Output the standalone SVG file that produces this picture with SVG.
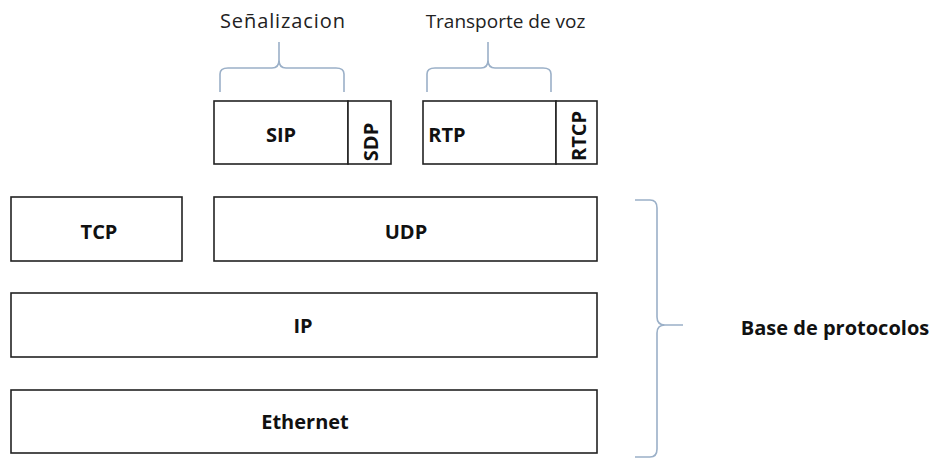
<svg xmlns="http://www.w3.org/2000/svg" width="936" height="459" viewBox="0 0 936 459">
<style>
.box{fill:#fff;stroke:#222;stroke-width:1.6}
.lbl{font-family:"Open Sans",Lato,sans-serif;font-weight:bold;font-size:20px;fill:#111;text-anchor:middle}
.hdr{font-family:"Open Sans",Lato,sans-serif;font-size:19px;fill:#222;text-anchor:middle}
.br{fill:none;stroke:#9bb0c8;stroke-width:1.6}
</style>
<rect width="936" height="459" fill="#fff"/>
<g id="connectors">
<path class="br" d="M220,92 L220,74 Q220,68 228,68 L272,68 Q279,68 279,60 L279,42 L279,60 Q279,68 286,68 L336,68 Q344,68 344,74 L344,92"/>
<path class="br" d="M427,92 L427,74 Q427,68 435,68 L481,68 Q488,68 488,60 L488,42 L488,60 Q488,68 495,68 L543,68 Q551,68 551,74 L551,92"/>
<path class="br" d="M635,200 L650,200 Q657,200 657,208 L657,317 Q657,325 665,325 L683,325 L665,325 Q657,325 657,333 L657,449 Q657,457 650,457 L635,457"/>
</g>
<g id="senalizacion"><text class="hdr" x="282.5" y="28" style="font-size:20px" textLength="125" lengthAdjust="spacing">Señalizacion</text></g>
<g id="transporte"><text class="hdr" x="505.5" y="28">Transporte de voz</text></g>
<g id="sip"><rect class="box" x="214" y="101" width="134" height="63"/><text class="lbl" x="281" y="142">SIP</text></g>
<g id="sdp"><rect class="box" x="348" y="101" width="43" height="63"/><text class="lbl" transform="translate(378,142) rotate(-90)" x="0" y="0">SDP</text></g>
<g id="rtp"><rect class="box" x="423" y="101" width="133" height="63"/><text class="lbl" x="447" y="142">RTP</text></g>
<g id="rtcp"><rect class="box" x="556" y="101" width="41" height="63"/><text class="lbl" transform="translate(586,136) rotate(-90)" x="0" y="0">RTCP</text></g>
<g id="tcp"><rect class="box" x="11" y="197" width="171" height="64"/><text class="lbl" x="99" y="239">TCP</text></g>
<g id="udp"><rect class="box" x="214" y="197" width="383" height="64"/><text class="lbl" x="406" y="239">UDP</text></g>
<g id="ip"><rect class="box" x="11" y="293" width="586" height="64"/><text class="lbl" x="303" y="333">IP</text></g>
<g id="ethernet"><rect class="box" x="11" y="390" width="586" height="63"/><text class="lbl" x="305" y="429">Ethernet</text></g>
<g id="base"><text class="lbl" x="835" y="335">Base de protocolos</text></g>
</svg>
